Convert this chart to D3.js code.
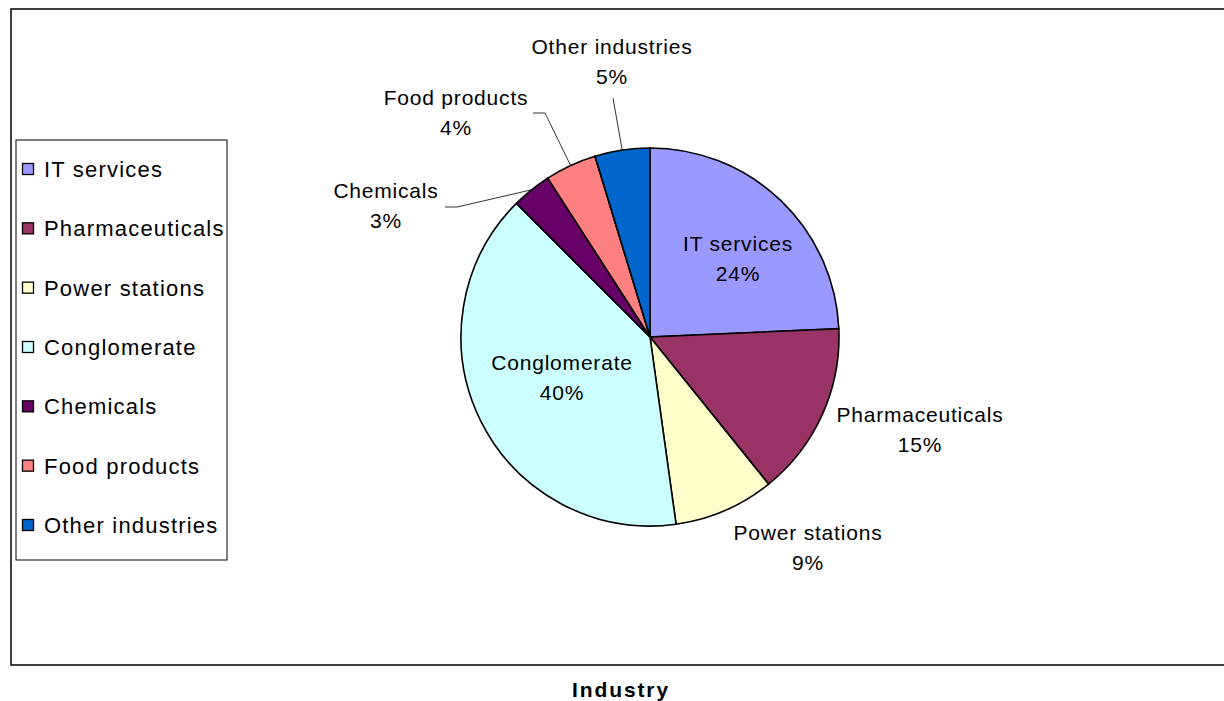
<!DOCTYPE html>
<html><head><meta charset="utf-8">
<script src="https://cdn.jsdelivr.net/npm/d3@7"></script>
<style>body{margin:0;background:#fff}svg{display:block}text{font-family:"Liberation Sans",Arial,sans-serif}</style>
</head><body><svg id="c" width="1224" height="701"></svg>
<script>
const categories = ["IT services","Pharmaceuticals","Power stations","Conglomerate","Chemicals","Food products","Other industries"];
const values = [24.3, 14.9, 8.6, 39.7, 3.4, 4.4, 4.7];
const colors = ["#9999FF","#993366","#FFFFCC","#CCFFFF","#660066","#FF8080","#0066CC"];
const title = "Industry";

// layout (not data): label centers relative to pie center, and leader elbows
const cx = 650, cy = 337, R = 189;
const labelPos = [[88,-94],[270,77],[158,195],[-88,25],[-264,-147],[-194,-240],[-38,-291]];
const leaderElbow = [null,null,null,null,[[-205,-130],[-193,-130]],[[-117,-224],[-105,-224]],[[-37,-239]]];

const svg = d3.select("#c");
svg.append("rect").attr("x",11).attr("y",9).attr("width",1300).attr("height",656)
  .attr("fill","#fff").attr("stroke","#000").attr("stroke-width",1.5);

const pie = d3.pie().value(d=>d).sort(null);
const arcs = pie(values);
const arc = d3.arc().innerRadius(0).outerRadius(R);
const g = svg.append("g").attr("transform",`translate(${cx},${cy})`);
g.selectAll("path.s").data(arcs).join("path").attr("class","s")
  .attr("d",arc).attr("fill",(d,i)=>colors[i]).attr("stroke","#000").attr("stroke-width",1.6);

const total = d3.sum(values);
const edge = d3.arc().innerRadius(R).outerRadius(R);
arcs.forEach((d,i)=>{
  if(leaderElbow[i]){
    const pts = leaderElbow[i].concat([edge.centroid(d)]);
    g.append("path").attr("d",d3.line()(pts)).attr("fill","none").attr("stroke","#000").attr("stroke-width",0.8);
  }
  const [lx,ly]=labelPos[i];
  const t = g.append("text").attr("text-anchor","middle").attr("font-size",21)
    .attr("letter-spacing",0.8).attr("fill","#000");
  t.append("tspan").attr("x",lx).attr("y",ly+8).text(categories[i]);
  t.append("tspan").attr("x",lx).attr("y",ly+38).text(Math.round(values[i]/total*100)+"%");
});

// legend
const lg = svg.append("g");
lg.append("rect").attr("x",16).attr("y",140).attr("width",211).attr("height",420)
  .attr("fill","#fff").attr("stroke","#000").attr("stroke-width",1);
const ly = d3.scalePoint().domain(categories).range([169,525]);
categories.forEach((c,i)=>{
  lg.append("rect").attr("x",22.5).attr("y",ly(c)-5.5).attr("width",11).attr("height",11)
    .attr("fill",colors[i]).attr("stroke","#000").attr("stroke-width",1.3);
  lg.append("text").attr("x",44).attr("y",ly(c)+8).attr("font-size",22)
    .attr("letter-spacing",1.2).text(c);
});

svg.append("text").attr("x",621).attr("y",697).attr("text-anchor","middle")
  .attr("font-size",21).attr("font-weight","bold").attr("letter-spacing",1.9).text(title);
</script></body></html>
